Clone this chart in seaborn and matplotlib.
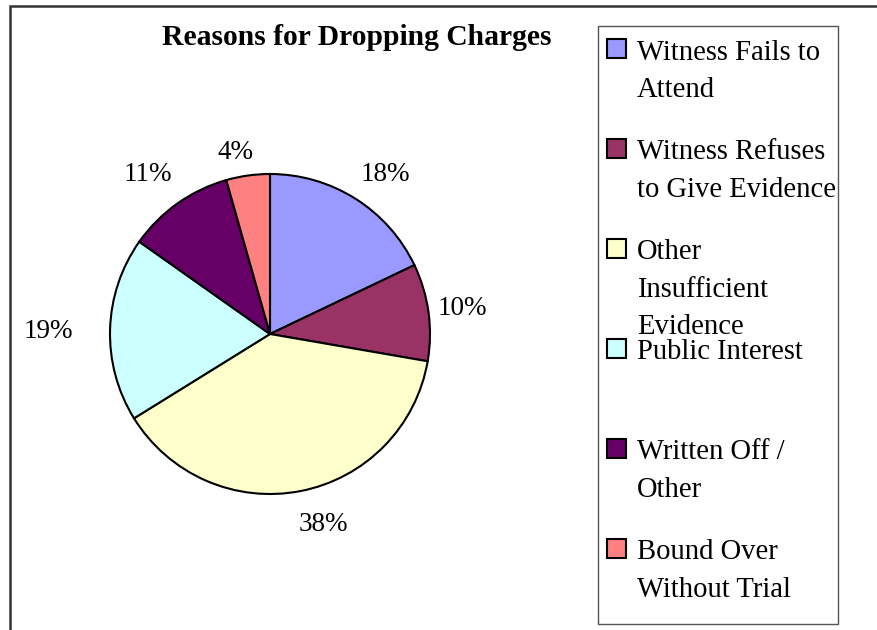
import numpy as np
import matplotlib
matplotlib.use('Agg')
import matplotlib.pyplot as plt
import seaborn as sns
from matplotlib.patches import Rectangle

reasons = ['Witness Fails to\nAttend', 'Witness Refuses\nto Give Evidence',
           'Other\nInsufficient\nEvidence', 'Public Interest',
           'Written Off /\nOther', 'Bound Over\nWithout Trial']
shares = [17.9, 9.8, 38.4, 18.6, 10.8, 4.4]
colors = ['#9999FF', '#993366', '#FFFFCC', '#CCFFFF', '#660066', '#FF8080']

sns.set_theme(style='white')
plt.rcParams['font.family'] = ['Liberation Serif', 'DejaVu Serif']
plt.rcParams['text.color'] = 'black'

palette = sns.color_palette(colors)

fig = plt.figure(figsize=(8.78, 6.3), dpi=100)

# outer chart frame (cut off on right and bottom like the original)
fig.patches.append(Rectangle((10/878, -0.2), 1.2, 0.2 + 1 - 5.5/630,
                             transform=fig.transFigure, fill=False,
                             edgecolor='#333333', linewidth=1.8, clip_on=False))

ax = fig.add_axes([110/878, (630-494)/630, 320/878, 320/630])
wedges, texts, autotexts = ax.pie(shares, colors=palette, startangle=90,
                                  counterclock=False, autopct='%.0f%%',
                                  pctdistance=1.22,
                                  wedgeprops={'edgecolor': 'black', 'linewidth': 1.5},
                                  textprops={'fontsize': 19.5, 'color': 'black'})
ax.set_xlim(-1, 1)
ax.set_ylim(-1, 1)
ax.set_aspect('equal')

# excel-like label placement: distance from centre and small angular nudge
label_r = [1.242, 1.213, 1.221, 1.388, 1.269, 1.169]
label_nudge = [-3.1, 0.5, 4.8, 0.3, 1.75, 2.6]
for w, t, r, d in zip(wedges, autotexts, label_r, label_nudge):
    ang = np.deg2rad((w.theta1 + w.theta2) / 2 + d)
    t.set_position((r * np.cos(ang), r * np.sin(ang) - 0.018))
    t.set_ha('center')
    t.set_va('center')

fig.text(357/878, 1 - 45/630, 'Reasons for Dropping Charges', ha='center', va='baseline',
         fontsize=21.3, fontweight='bold')

# legend box
fig.patches.append(Rectangle((598/878, 1 - 624/630), 240/878, 598/630,
                             transform=fig.transFigure, fill=False,
                             edgecolor='#555555', linewidth=1.0))
for i, (lab, c) in enumerate(zip(reasons, palette)):
    top = 39 + 99.9 * i
    fig.patches.append(Rectangle((607.5/878, 1 - (top + 19)/630), 19/878, 19/630,
                                 transform=fig.transFigure, facecolor=c,
                                 edgecolor='black', linewidth=1.5))
    fig.text(637/878, 1 - (top + 0.5)/630, lab, ha='left', va='top',
             fontsize=20.6, linespacing=1.58)

fig.savefig('out.png', dpi=100)
